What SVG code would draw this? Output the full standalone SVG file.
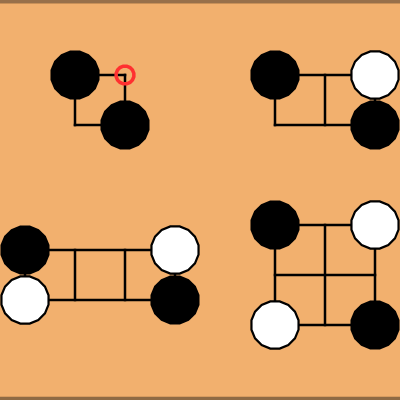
<svg xmlns="http://www.w3.org/2000/svg" xmlns:xlink="http://www.w3.org/1999/xlink" width="400" height="400" viewBox="0 0 400 400">
<defs>
<style>
.grid line{stroke:#000;stroke-width:2.5;stroke-linecap:square}
.b{fill:#000}
.w{fill:#fff;stroke:#000;stroke-width:2.2}
.mark{fill:none;stroke:#ff3030;stroke-width:3.5}
</style>
<polygon id="bs" points="24.52,4.88 20.79,13.89 13.89,20.79 4.88,24.52 -4.88,24.52 -13.89,20.79 -20.79,13.89 -24.52,4.88 -24.52,-4.88 -20.79,-13.89 -13.89,-20.79 -4.88,-24.52 4.88,-24.52 13.89,-20.79 20.79,-13.89 24.52,-4.88"/>
<polygon id="ws" points="23.54,4.68 19.96,13.33 13.33,19.96 4.68,23.54 -4.68,23.54 -13.33,19.96 -19.96,13.33 -23.54,4.68 -23.54,-4.68 -19.96,-13.33 -13.33,-19.96 -4.68,-23.54 4.68,-23.54 13.33,-19.96 19.96,-13.33 23.54,-4.68"/>
</defs>
<rect width="400" height="400" fill="#f2b06e"/>
<rect x="0" y="0" width="400" height="3" fill="#98704a"/>
<rect x="0" y="3" width="400" height="1" fill="#c89058"/>
<rect x="0" y="396" width="400" height="1" fill="#d89c60"/>
<rect x="0" y="397" width="400" height="3" fill="#8f6a44"/>
<g id="connectors" class="grid">
<line x1="75" y1="75" x2="125" y2="75"/>
<line x1="75" y1="125" x2="125" y2="125"/>
<line x1="75" y1="75" x2="75" y2="125"/>
<line x1="125" y1="75" x2="125" y2="125"/>
<line x1="275" y1="75" x2="375" y2="75"/>
<line x1="275" y1="125" x2="375" y2="125"/>
<line x1="275" y1="75" x2="275" y2="125"/>
<line x1="325" y1="75" x2="325" y2="125"/>
<line x1="375" y1="75" x2="375" y2="125"/>
<line x1="25" y1="250" x2="175" y2="250"/>
<line x1="25" y1="300" x2="175" y2="300"/>
<line x1="25" y1="250" x2="25" y2="300"/>
<line x1="75" y1="250" x2="75" y2="300"/>
<line x1="125" y1="250" x2="125" y2="300"/>
<line x1="175" y1="250" x2="175" y2="300"/>
<line x1="275" y1="225" x2="375" y2="225"/>
<line x1="275" y1="275" x2="375" y2="275"/>
<line x1="275" y1="325" x2="375" y2="325"/>
<line x1="275" y1="225" x2="275" y2="325"/>
<line x1="325" y1="225" x2="325" y2="325"/>
<line x1="375" y1="225" x2="375" y2="325"/>
</g>
<g id="stone-b1"><use xlink:href="#bs" class="b" x="75" y="75"/></g>
<g id="stone-b2"><use xlink:href="#bs" class="b" x="125" y="125"/></g>
<g id="marker"><polygon class="mark" transform="translate(125 75)" points="8.83,1.76 7.48,5 5,7.48 1.76,8.83 -1.76,8.83 -5,7.48 -7.48,5 -8.83,1.76 -8.83,-1.76 -7.48,-5 -5,-7.48 -1.76,-8.83 1.76,-8.83 5,-7.48 7.48,-5 8.83,-1.76"/></g>
<g id="stone-b3"><use xlink:href="#bs" class="b" x="275" y="75"/></g>
<g id="stone-b4"><use xlink:href="#bs" class="b" x="375" y="125"/></g>
<g id="stone-w1"><use xlink:href="#ws" class="w" x="375" y="75"/></g>
<g id="stone-b5"><use xlink:href="#bs" class="b" x="25" y="250"/></g>
<g id="stone-w2"><use xlink:href="#ws" class="w" x="25" y="300"/></g>
<g id="stone-w3"><use xlink:href="#ws" class="w" x="175" y="250"/></g>
<g id="stone-b6"><use xlink:href="#bs" class="b" x="175" y="300"/></g>
<g id="stone-b7"><use xlink:href="#bs" class="b" x="275" y="225"/></g>
<g id="stone-w4"><use xlink:href="#ws" class="w" x="375" y="225"/></g>
<g id="stone-w5"><use xlink:href="#ws" class="w" x="275" y="325"/></g>
<g id="stone-b8"><use xlink:href="#bs" class="b" x="375" y="325"/></g>
</svg>
